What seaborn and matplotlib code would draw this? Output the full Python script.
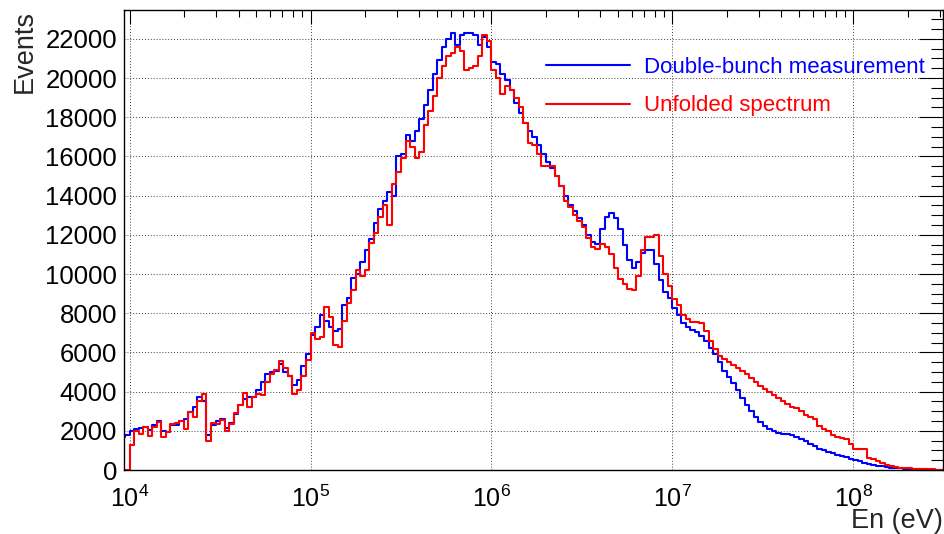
import numpy as np
import pandas as pd
import matplotlib
matplotlib.use("Agg")
import matplotlib.pyplot as plt
import seaborn as sns
from matplotlib.ticker import LogLocator, MultipleLocator, AutoMinorLocator, LogFormatterSciNotation, NullFormatter

# ---------------- data ----------------
# histogram binning: 40 log bins per decade, from 10^3.95 to 10^8.5 eV
bins_per_decade = 40
log_e_min, log_e_max = 3.95, 8.5

# "Double-bunch measurement" (counts per bin)
blue_pre = [1700, 1780]
blue_dec4 = [2000, 2100, 2150, 2200, 2050, 2300, 2500, 2000, 1950, 2300,
             2300, 2500, 2600, 2950, 3200, 3750, 3500, 1800, 2300, 2500,
             2600, 2150, 2400, 2850, 3300, 3600, 3700, 3750, 4100, 4500,
             4900, 5000, 5050, 5400, 5000, 4800, 4350, 4600, 5300, 5900]
blue_dec5 = [6900, 7300, 7900, 7600, 7300, 7100, 7200, 8400, 8800, 9800,
             10000, 10600, 11200, 11800, 12600, 13300, 13700, 14200, 14000, 16000,
             16100, 17100, 16800, 17300, 17900, 18600, 19400, 20200, 20900, 21600,
             22000, 22300, 21700, 22200, 22300, 22300, 22200, 21700, 22100, 21600]
blue_dec6 = [20800, 20700, 20200, 19900, 19400, 18700, 18200, 17700, 17300, 17000,
             16600, 16100, 15700, 15400, 15000, 14500, 14000, 13500, 13200, 12850,
             12500, 12000, 11650, 11550, 12300, 12900, 13100, 12850, 12300, 11500,
             10700, 10300, 10600, 11050, 11200, 11200, 10500, 9700, 9100, 8800]
blue_dec7 = [8250, 7900, 7500, 7300, 7150, 7050, 6850, 6600, 6200, 5900,
             5500, 5050, 4750, 4450, 4100, 3650, 3300, 3000, 2700, 2450,
             2250, 2100, 2000, 1900, 1850, 1850, 1800, 1700, 1580, 1470,
             1350, 1250, 1080, 1000, 930, 850, 780, 700, 650, 580]
blue_dec8 = [520, 450, 380, 320, 260, 210, 180, 150, 120, 100,
             80, 60, 50, 40, 30, 30, 20, 20, 20, 10]

# "Unfolded spectrum" (counts per bin)
red_pre = [0, 0]
red_dec4 = [1300, 2000, 1850, 2200, 1750, 2200, 2450, 1700, 1950, 2350,
            2400, 2500, 2100, 2950, 2700, 3500, 3900, 1500, 2400, 2350,
            2550, 2000, 2350, 2900, 3300, 3950, 3200, 3700, 3900, 3850,
            4500, 4900, 5100, 5550, 5200, 4800, 3900, 4100, 4800, 5600]
red_dec5 = [7000, 6700, 6800, 8300, 7800, 6400, 6300, 7600, 8500, 9200,
            10200, 9900, 10200, 11600, 12100, 12900, 13500, 12500, 14600, 15200,
            15900, 16800, 16500, 15900, 16200, 17600, 18300, 19100, 20000, 20600,
            21100, 21300, 21600, 21400, 20400, 20500, 20600, 21100, 22200, 21900]
red_dec6 = [20400, 20000, 19200, 19600, 19400, 19000, 18500, 17700, 16700, 16600,
            16100, 15500, 15500, 15500, 15000, 14500, 13700, 13400, 13000, 12700,
            12400, 11850, 11400, 11300, 11550, 11400, 11000, 10300, 9750, 9500,
            9250, 9200, 9900, 11200, 11900, 11900, 12000, 10900, 10000, 9400]
red_dec7 = [8750, 8400, 7900, 7700, 7550, 7550, 7500, 7100, 6600, 6150,
            5800, 5650, 5500, 5350, 5200, 5050, 4900, 4700, 4500, 4300,
            4150, 4000, 3850, 3650, 3500, 3350, 3200, 3150, 3000, 2800,
            2700, 2600, 2250, 2100, 2000, 1800, 1700, 1620, 1600, 1350]
red_dec8 = [1080, 1050, 1050, 600, 550, 470, 370, 280, 220, 160,
            120, 100, 80, 60, 50, 40, 30, 30, 20, 20]

series_names = ["Double-bunch measurement", "Unfolded spectrum"]
series_colors = ["#0000ff", "#ff0000"]
x_label = "En (eV)"
y_label = "Events"
y_ticks = [0, 2000, 4000, 6000, 8000, 10000, 12000, 14000, 16000, 18000, 20000, 22000]

# ---------------- build table ----------------
blue = np.array(blue_pre + blue_dec4 + blue_dec5 + blue_dec6 + blue_dec7 + blue_dec8, float)
red = np.array(red_pre + red_dec4 + red_dec5 + red_dec6 + red_dec7 + red_dec8, float)
n_bins = len(blue)
edges = np.logspace(log_e_min, log_e_max, n_bins + 1)

frames = []
for name, vals in zip(series_names, [blue, red]):
    frames.append(pd.DataFrame({"E": edges, "counts": np.append(vals, vals[-1]), "series": name}))
df = pd.concat(frames, ignore_index=True)

# ---------------- style ----------------
sns.set_theme(style="white")
plt.rcParams["font.family"] = ["Liberation Sans", "DejaVu Sans"]
plt.rcParams["mathtext.fontset"] = "custom"
plt.rcParams["mathtext.rm"] = "Liberation Sans"
plt.rcParams["mathtext.it"] = "Liberation Sans:italic"
plt.rcParams["mathtext.bf"] = "Liberation Sans:bold"

W, H = 945, 534
fig = plt.figure(figsize=(W / 100, H / 100), dpi=100)
ax = fig.add_axes([124 / W, 1 - 470 / H, (943 - 124) / W, (470 - 10) / H])

sns.lineplot(data=df, x="E", y="counts", hue="series", hue_order=series_names,
             palette=series_colors, estimator=None, sort=False,
             drawstyle="steps-post", linewidth=1.5, ax=ax)

ax.set_xscale("log")
ax.set_xlim(10 ** 3.969, 10 ** 8.496)
ax.set_ylim(0, 23470)

ax.xaxis.set_major_locator(LogLocator(base=10, numticks=20))
ax.xaxis.set_minor_locator(LogLocator(base=10, subs=np.arange(2, 10), numticks=40))
ax.xaxis.set_major_formatter(LogFormatterSciNotation(base=10))
ax.xaxis.set_minor_formatter(NullFormatter())
ax.set_yticks(y_ticks)
ax.yaxis.set_minor_locator(AutoMinorLocator(4))

ax.tick_params(axis="both", which="both", direction="in", top=True, right=True,
               colors="black", width=0.8)
ax.tick_params(axis="x", which="major", length=10, pad=11, labelsize=18)
ax.tick_params(axis="x", which="minor", length=5)
ax.tick_params(axis="y", which="major", length=17, pad=5, labelsize=18.5)
ax.tick_params(axis="y", which="minor", length=8.5)

ax.grid(True, which="major", linestyle=(0, (1, 2)), color="0.25", linewidth=0.7)
for s in ax.spines.values():
    s.set_visible(True)
    s.set_color("black")
    s.set_linewidth(1.0)

ax.set_xlabel(x_label, fontsize=19.5, loc="right")
ax.set_ylabel(y_label, fontsize=19.5, loc="top")
ax.xaxis.set_label_coords(1.0, -0.083)
ax.yaxis.set_label_coords(-0.105, 1.0)

ax.legend(loc="upper left", bbox_to_anchor=(546 / W, 1 - 57 / H), bbox_transform=fig.transFigure,
          frameon=False, fontsize=16, handlelength=3.8, handletextpad=0.6,
          labelspacing=0.78, borderpad=0, borderaxespad=0, labelcolor="linecolor")

fig.savefig("out.png", dpi=100)
